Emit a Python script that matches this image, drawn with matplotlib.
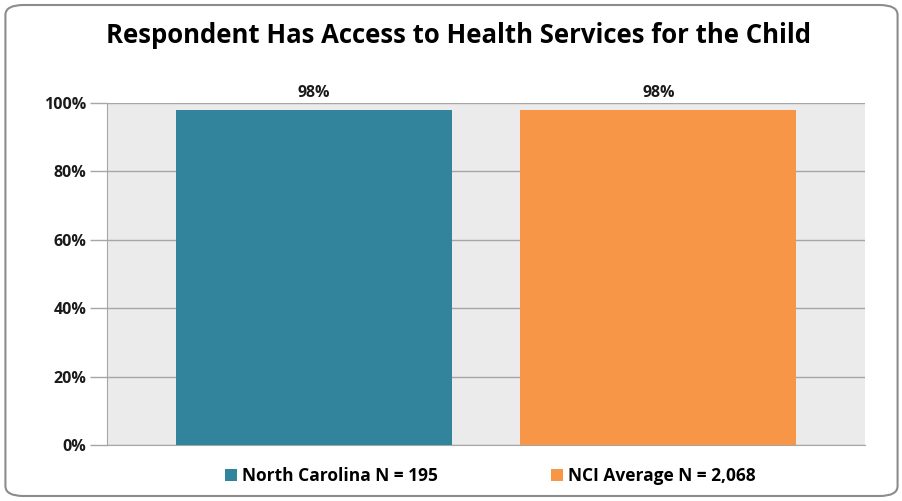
import matplotlib.pyplot as plt
from matplotlib.patches import FancyBboxPatch, Patch

# Data
groups = ["North Carolina N = 195", "NCI Average N = 2,068"]
values = [98, 98]
colors = ["#31849B", "#F79646"]
title = "Respondent Has Access to Health Services for the Child"

plt.rcParams["font.family"] = ["Open Sans", "DejaVu Sans"]

fig = plt.figure(figsize=(9.03, 5.01), dpi=100)

# rounded frame around the chart
frame = FancyBboxPatch((0.006, 0.01), 0.988, 0.98,
                       boxstyle="round,pad=0,rounding_size=0.02",
                       transform=fig.transFigure, facecolor="none",
                       edgecolor="#8C8C8C", linewidth=1.5, zorder=10)
fig.patches.append(frame)

ax = fig.add_axes([0.1185, 0.1118, 0.8395, 0.6826])
ax.set_facecolor("#EBEBEB")

x = range(len(values))
bars = ax.bar(x, values, width=0.8, color=colors, zorder=3)
for xi, v in zip(x, values):
    ax.text(xi, v + 2.5, f"{v}%", ha="center", va="bottom",
            fontsize=11.5, fontweight="bold", color="#1A1A1A")

ax.set_xlim(-0.6, 1.6)
ax.set_ylim(0, 100)
ax.set_yticks(range(0, 101, 20))
ax.set_yticklabels([f"{t}%" for t in range(0, 101, 20)],
                   fontsize=11.5, fontweight="bold", color="#1A1A1A")
ax.set_xticks([])
ax.grid(axis="y", color="#A6A6A6", linewidth=1, zorder=1)
ax.tick_params(axis="y", length=12, color="#A6A6A6", width=1, pad=3)
for side in ["top", "right"]:
    ax.spines[side].set_visible(False)
ax.spines["left"].set_color("#A6A6A6")
ax.spines["bottom"].set_color("#A6A6A6")

fig.text(0.508, 0.93, title, ha="center", va="center",
         fontsize=18.5, fontweight="bold", color="black")

handles = [Patch(facecolor=c) for c in colors]
fig.legend(handles, groups, loc="center", bbox_to_anchor=(0.543, 0.05),
           ncol=2, frameon=False, columnspacing=6.5, handlelength=0.7,
           handleheight=0.7, handletextpad=0.3,
           prop={"weight": "bold", "size": 12.5})

fig.savefig("out.png", dpi=100)
